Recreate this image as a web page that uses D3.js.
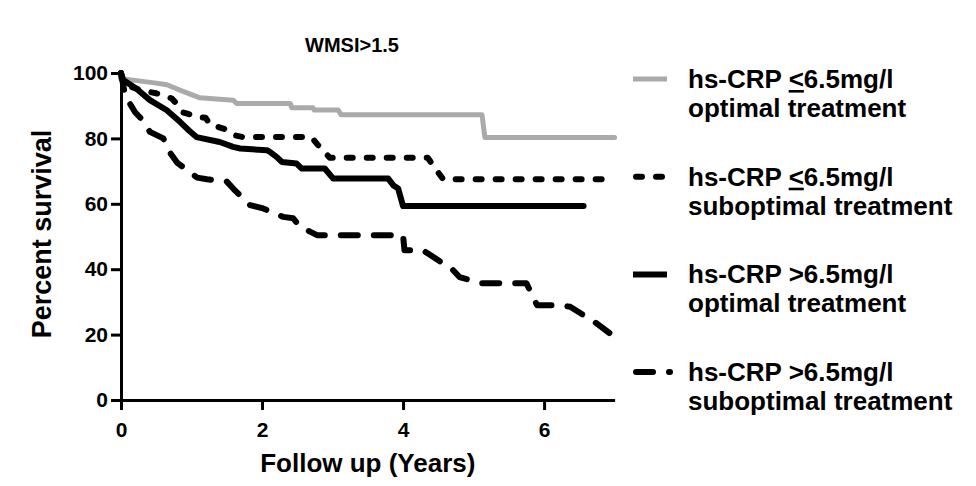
<!DOCTYPE html>
<html>
<head>
<meta charset="utf-8">
<script src="https://cdn.jsdelivr.net/npm/d3@7"></script>
<style>
  html, body { margin: 0; padding: 0; background: #ffffff; }
  svg { display: block; font-family: "Liberation Sans", Arial, Helvetica, sans-serif; }
</style>
</head>
<body>
<svg id="chart" width="976" height="486"></svg>
<script>
// Kaplan-Meier survival, WMSI>1.5, split by hs-CRP level and treatment
const chartTitle = "WMSI>1.5";
const xLabel = "Follow up (Years)";
const yLabel = "Percent survival";
const xTicks = [0, 2, 4, 6];
const yTicks = [0, 20, 40, 60, 80, 100];

// [years, percent surviving] vertices of each curve
const lowCrpOptimal = [
  [0, 100], [0.03, 98.2], [0.5, 96.9], [0.65, 96.4], [0.88, 94.4], [1.12, 92.4],
  [1.59, 91.7], [1.64, 90.7], [2.40, 90.7], [2.42, 89.4], [2.72, 89.4], [2.74, 88.7],
  [3.08, 88.7], [3.12, 87.2], [5.12, 87.2], [5.16, 80.3], [7.0, 80.3]
];
const lowCrpSuboptimal = [
  [0, 100], [0.05, 96.5], [0.3, 94.6], [0.5, 93.8], [0.6, 93.2], [0.72, 92.2],
  [0.78, 90.8], [0.87, 88], [0.94, 87.6], [1.09, 86.5], [1.2, 86.3], [1.27, 84],
  [1.38, 83.5], [1.52, 82.5], [1.6, 81], [1.73, 80.4], [2.70, 80.4], [2.78, 78.3],
  [2.88, 76], [2.96, 74.1], [4.35, 74.1], [4.45, 71], [4.57, 67.5], [7.0, 67.5]
];
const highCrpOptimal = [
  [0, 100], [0.01, 98.2], [0.22, 95.2], [0.41, 91.7], [0.65, 88.6], [0.84, 85],
  [0.96, 82.5], [1.07, 80.4], [1.4, 78.9], [1.59, 77.4], [1.69, 76.9], [2.07, 76.4],
  [2.13, 75.6], [2.21, 74.3], [2.28, 72.8], [2.49, 72.3], [2.56, 70.8], [2.89, 70.8],
  [3.01, 67.7], [3.79, 67.7], [3.86, 65.7], [3.93, 64.7], [4.0, 59.3], [6.56, 59.3]
];
const highCrpSuboptimal = [
  [0, 100], [0.06, 93], [0.2, 88], [0.31, 85.5], [0.41, 82], [0.6, 80], [0.7, 75.5],
  [0.8, 72.5], [1.08, 68], [1.22, 67.5], [1.5, 66.8], [1.62, 64], [1.83, 59.6],
  [2.0, 58.7], [2.3, 56], [2.44, 55.6], [2.54, 53], [2.68, 51.5], [2.78, 50.4],
  [4.0, 50.4], [4.02, 45.8], [4.28, 45.8], [4.43, 43.7], [4.71, 39.7], [4.8, 37.6],
  [5.1, 35.7], [5.75, 35.7], [5.9, 29], [6.23, 29], [6.37, 28.5], [6.6, 25.4],
  [6.74, 23.5], [7.0, 19.3]
];

const legendFirstLines = ["hs-CRP \u22646.5mg/l", "hs-CRP \u22646.5mg/l", "hs-CRP >6.5mg/l", "hs-CRP >6.5mg/l"];
const legendSecondLines = ["optimal treatment", "suboptimal treatment", "optimal treatment", "suboptimal treatment"];

const curves = [lowCrpOptimal, lowCrpSuboptimal, highCrpOptimal, highCrpSuboptimal];
const strokes = [
  { color: "#aaaaaa", width: 5, dash: null },
  { color: "#000000", width: 6, dash: "6,14" },
  { color: "#000000", width: 6, dash: null },
  { color: "#000000", width: 6, dash: "17,16" }
];

const svg = d3.select("#chart");

const x = d3.scaleLinear().domain([0, 7]).range([121, 614.6]);
const y = d3.scaleLinear().domain([0, 100]).range([400, 73]);

// axes
const yAxis = svg.append("g")
  .attr("transform", `translate(${x(0)},0)`)
  .call(d3.axisLeft(y).tickValues(yTicks).tickFormat(d3.format("d"))
    .tickSize(10).tickSizeOuter(0).tickPadding(3));
const xAxis = svg.append("g")
  .attr("transform", `translate(0,${y(0)})`)
  .call(d3.axisBottom(x).tickValues(xTicks).tickFormat(d3.format("d"))
    .tickSize(10).tickSizeOuter(0).tickPadding(12));

[xAxis, yAxis].forEach(g => {
  g.select(".domain").attr("stroke", "#000").attr("stroke-width", 3);
  g.selectAll(".tick line").attr("stroke", "#000").attr("stroke-width", 3);
  g.selectAll(".tick text")
    .attr("fill", "#000")
    .style("font-family", "'Liberation Sans', Arial, sans-serif")
    .style("font-size", "21px")
    .style("font-weight", "bold");
});

// survival curves
const line = d3.line().x(d => x(d[0])).y(d => y(d[1]));
svg.append("g").selectAll("path")
  .data(curves)
  .join("path")
  .attr("d", d => line(d))
  .attr("fill", "none")
  .attr("stroke", (d, i) => strokes[i].color)
  .attr("stroke-width", (d, i) => strokes[i].width)
  .attr("stroke-dasharray", (d, i) => strokes[i].dash)
  .attr("stroke-linecap", "round")
  .attr("stroke-linejoin", "round");

// titles
svg.append("text")
  .attr("x", 352).attr("y", 52)
  .attr("text-anchor", "middle")
  .style("font-size", "20px").style("font-weight", "bold")
  .text(chartTitle);

svg.append("text")
  .attr("x", (x(0) + x(7)) / 2).attr("y", 472)
  .attr("text-anchor", "middle")
  .style("font-size", "26px").style("font-weight", "bold")
  .text(xLabel);

svg.append("text")
  .attr("transform", "translate(51,234) rotate(-90)")
  .attr("text-anchor", "middle")
  .style("font-size", "27px").style("font-weight", "bold")
  .text(yLabel);

// legend
const legend = svg.append("g");
legendFirstLines.forEach((label, i) => {
  const base = 88 + i * 97.7;
  const sample = legend.append("path")
    .attr("fill", "none")
    .attr("stroke", strokes[i].color)
    .attr("stroke-width", strokes[i].width);
  if (strokes[i].dash) {
    sample.attr("d", d3.line()([[636, base - 9], [670, base - 9]]))
      .attr("stroke-dasharray", strokes[i].dash)
      .attr("stroke-linecap", "round");
  } else {
    sample.attr("d", d3.line()([[633, base - 9], [667, base - 9]]));
  }

  const t = legend.append("text")
    .attr("x", 688).attr("y", base)
    .style("font-size", "26px").style("font-weight", "bold");
  const parts = label.split("\u2264");
  if (parts.length === 2) {
    t.append("tspan").text(parts[0]);
    t.append("tspan").style("text-decoration", "underline").text("<");
    t.append("tspan").text(parts[1]);
  } else {
    t.text(label);
  }
  legend.append("text")
    .attr("x", 688).attr("y", base + 29)
    .style("font-size", "26px").style("font-weight", "bold")
    .text(legendSecondLines[i]);
});
</script>
</body>
</html>
